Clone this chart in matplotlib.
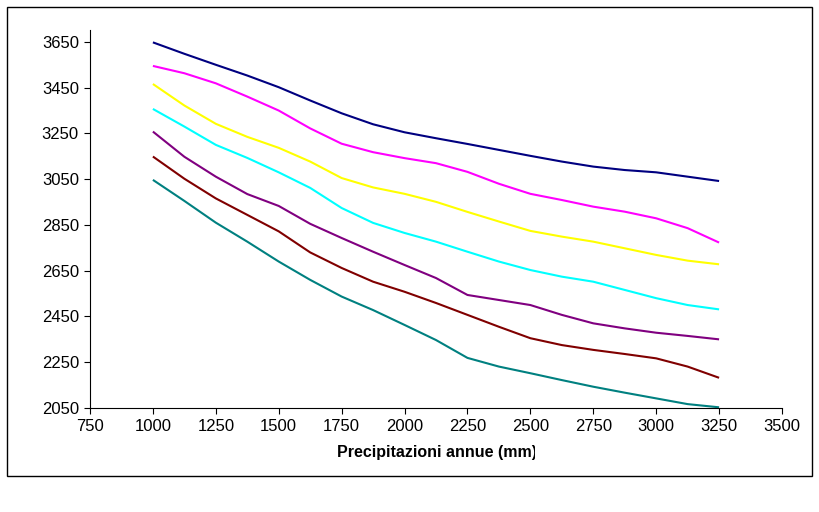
"""Curve di precipitazione annua: sette serie lisciate, stile grafico Excel."""
import matplotlib
matplotlib.use("Agg")
import matplotlib.pyplot as plt
from matplotlib.patches import Rectangle
from matplotlib.transforms import Bbox

precip = [1000, 1125, 1250, 1375, 1500, 1625, 1750, 1875, 2000, 2125,
          2250, 2375, 2500, 2625, 2750, 2875, 3000, 3125, 3250]

navy = [3648, 3598, 3550, 3503, 3452, 3394, 3338, 3290, 3255, 3229,
        3204, 3178, 3152, 3127, 3105, 3090, 3080, 3061, 3042]
magenta = [3545, 3513, 3469, 3411, 3350, 3272, 3205, 3168, 3142, 3120,
           3082, 3030, 2986, 2959, 2930, 2908, 2879, 2836, 2773]
yellow = [3466, 3372, 3292, 3235, 3187, 3127, 3055, 3014, 2986, 2951,
          2907, 2865, 2824, 2799, 2777, 2748, 2719, 2694, 2678]
cyan = [3357, 3280, 3200, 3143, 3080, 3012, 2924, 2859, 2815, 2777,
        2733, 2690, 2653, 2624, 2602, 2566, 2530, 2500, 2481]
purple = [3258, 3148, 3061, 2985, 2933, 2855, 2793, 2733, 2675, 2618,
          2544, 2522, 2500, 2457, 2420, 2398, 2379, 2365, 2350]
maroon = [3149, 3052, 2966, 2894, 2822, 2730, 2662, 2602, 2558, 2509,
          2457, 2405, 2355, 2325, 2304, 2286, 2267, 2231, 2182]
teal = [3047, 2955, 2860, 2777, 2690, 2610, 2537, 2478, 2413, 2347,
        2269, 2231, 2202, 2172, 2143, 2117, 2092, 2067, 2053]

series = [navy, magenta, yellow, cyan, purple, maroon, teal]
colors = ["#000080", "#FF00FF", "#FFFF00", "#00FFFF", "#800080", "#800000", "#008080"]

x_ticks = [750, 1000, 1250, 1500, 1750, 2000, 2250, 2500, 2750, 3000, 3250, 3500]
y_ticks = [2050, 2250, 2450, 2650, 2850, 3050, 3250, 3450, 3650]

W, H = 820, 512
plt.rcParams["font.family"] = ["Liberation Sans", "DejaVu Sans"]

fig = plt.figure(figsize=(W / 100, H / 100), dpi=100)
fig.patch.set_facecolor("white")

# cornice esterna dell'area grafico
fig.patches.append(Rectangle((7 / W, 1 - 476 / H), 805 / W, 469 / H,
                             transform=fig.transFigure, fill=False,
                             edgecolor="black", linewidth=1.0))

ax = fig.add_axes([90 / W, 1 - 408 / H, 692 / W, 378 / H])
for ys, c in zip(series, colors):
    ax.plot(precip, ys, color=c, linewidth=1.5, solid_capstyle="butt")

ax.set_xlim(750, 3500)
ax.set_ylim(2050, 3702)
ax.set_xticks(x_ticks)
ax.set_yticks(y_ticks)
ax.tick_params(direction="out", length=4, width=0.8, labelsize=12, pad=4,
               colors="black")
for side in ("top", "right"):
    ax.spines[side].set_visible(False)
for side in ("left", "bottom"):
    ax.spines[side].set_linewidth(0.8)

label = fig.text(437 / W, 1 - 452 / H, "Precipitazioni annue (mm)",
                 ha="center", va="center", fontsize=11.5, fontweight="bold")
label.set_clip_box(Bbox([[0, 0], [535, H]]))
label.set_clip_on(True)

fig.savefig("out.png", dpi=100)
